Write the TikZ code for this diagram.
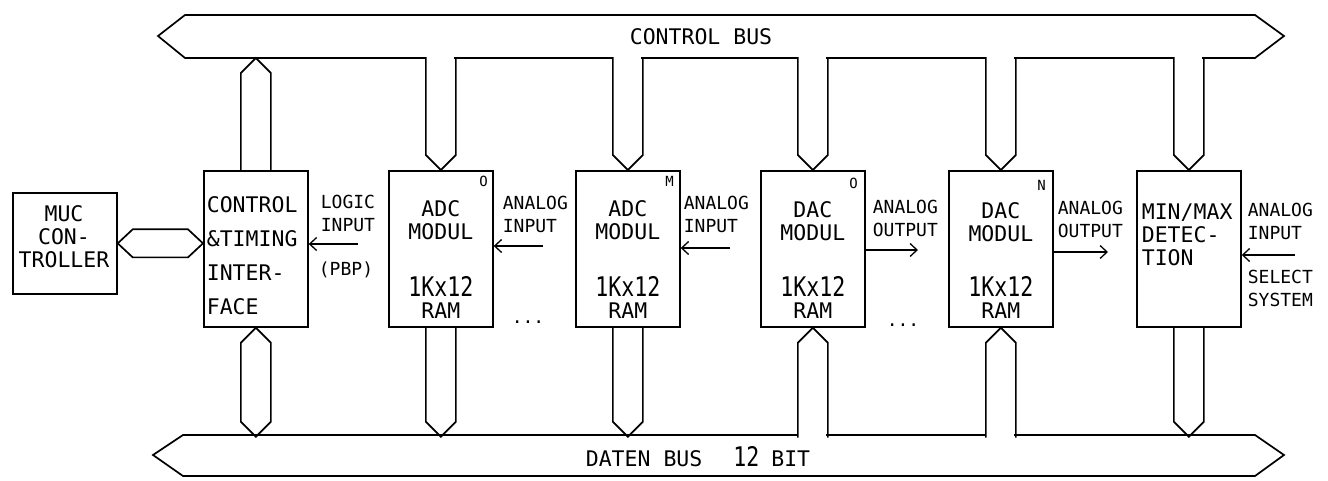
\documentclass[tikz,border=0pt]{standalone}
\usepackage{fontspec}
\usepackage{graphicx}
\newfontfamily\tw{DejaVu Sans Mono}
\usetikzlibrary{calc,arrows.meta}
\newcommand\bigf{\tw\fontsize{21.5}{23}\selectfont}
\newcommand\ramf{\tw\fontsize{27}{27}\selectfont}
\begin{document}
\begin{tikzpicture}[x=1pt,y=-1pt,
  line width=1.7pt, line join=miter, line cap=rect,
  box/.style={draw, rectangle, inner sep=0pt, anchor=north west},
  modbox/.style={box, minimum width=104pt, minimum height=156pt},
  bigtxt/.style={font=\bigf, align=center, inner sep=0pt},
  ramtxt/.style={font=\ramf, inner sep=0pt},
  smtxt/.style={font={\tw\fontsize{18}{23}\selectfont}, align=left, inner sep=0pt},
  idx/.style={font={\tw\fontsize{14}{14}\selectfont}, inner sep=0pt},
  arr/.style={-{Straight Barb[length=7pt,width=13pt]}, line width=1.3pt, line cap=butt}]
\fill[white] (0,0) rectangle (1328,481);
\useasboundingbox (0,0) rectangle (1328,481);

% boxes
\node[box, minimum width=104pt, minimum height=101pt] (muc) at (12,192) {};
\node[modbox] (cti)  at (203,170) {};
\node[modbox] (adc0) at (388,170) {};
\node[modbox] (adcm) at (575,170) {};
\node[modbox] (dac0) at (760,170) {};
\node[modbox] (dacn) at (948,170) {};
\node[modbox] (mm)   at (1136,170) {};

% control bus
\draw (1203,58) -- (1255,58) -- (1284,36) -- (1255,15) -- (185,15) -- (158,36) -- (185,58) -- (425,58);
\draw (455,58) -- (612,58);
\draw (642,58) -- (797,58);
\draw (827,58) -- (985,58);
\draw (1015,58) -- (1173,58);
\node[bigtxt] (cbl) at (701,37) {CONTROL BUS};

% daten bus
\draw (797,435) -- (183,435) -- (153,455) -- (183,476) -- (1255,476) -- (1284,455) -- (1255,435) -- (1015,435);
\draw (827,435) -- (985,435);
\node[bigtxt, anchor=base west] (dbl) at (585,466) {DATEN BUS\hspace{31pt}{\ramf\scalebox{0.8}[1]{12}}\hspace{12pt}BIT};

% stubs from control bus down into modules
\foreach \m in {adc0,adcm,dac0,dacn,mm}
  \draw ($(\m.north)+(-15,-112)$) -- ($(\m.north)+(-15,-15)$) -- (\m.north)
        -- ($(\m.north)+(15,-15)$) -- ($(\m.north)+(15,-112)$);
% stub from CTI up into control bus
\draw ($(cti.north)+(-15,0)$) -- ($(cti.north)+(-15,-97)$) -- ($(cti.north)+(0,-112)$)
      -- ($(cti.north)+(15,-97)$) -- ($(cti.north)+(15,0)$);
% stubs down into daten bus
\foreach \m in {adc0,adcm,mm}
  \draw ($(\m.south)+(-15,0)$) -- ($(\m.south)+(-15,94)$) -- ($(\m.south)+(0,109)$)
        -- ($(\m.south)+(15,94)$) -- ($(\m.south)+(15,0)$);
% stubs from daten bus up into DAC modules
\foreach \m in {dac0,dacn}
  \draw ($(\m.south)+(-15,109)$) -- ($(\m.south)+(-15,15)$) -- (\m.south)
        -- ($(\m.south)+(15,15)$) -- ($(\m.south)+(15,109)$);
% CTI <-> daten bus
\draw (cti.south) -- ($(cti.south)+(15,15)$) -- ($(cti.south)+(15,94)$) -- ($(cti.south)+(0,109)$)
      -- ($(cti.south)+(-15,94)$) -- ($(cti.south)+(-15,15)$) -- cycle;
% MUC <-> CTI
\coordinate (ml) at (muc.east);
\coordinate (mr) at (muc.east -| cti.west);
\draw (ml) -- ($(ml)+(15,-14)$) -- ($(mr)+(-15,-14)$) -- (mr) -- ($(mr)+(-15,14)$) -- ($(ml)+(15,14)$) -- cycle;

% box texts
\node[bigtxt] (muct) at (64,237) {MUC\\CON-\\TROLLER};
\node[bigtxt, align=left, anchor=west, font={\tw\fontsize{21.5}{34}\selectfont}] (ctit) at (206,256) {CONTROL\\\&TIMING\\INTER-\\FACE};
\node[bigtxt] (t1) at ($(adc0.north)+(0,50)$) {ADC\\MODUL};
\node[bigtxt] (t2) at ($(adcm.north)+(0,50)$) {ADC\\MODUL};
\node[bigtxt] (t3) at ($(dac0.north)+(0,51)$) {DAC\\MODUL};
\node[bigtxt] (t4) at ($(dacn.north)+(0,52)$) {DAC\\MODUL};
\foreach \m in {adc0,adcm,dac0,dacn} {
  \node[ramtxt] at ($(\m.north)+(0,116)$) {\scalebox{0.8}[1]{1Kx12}};
  \node[bigtxt] at ($(\m.north)+(0,141)$) {RAM};
}
\node[idx] (i1) at ($(adc0.north east)+(-10,11)$) {O};
\node[idx] (i2) at ($(adcm.north east)+(-11,11)$) {M};
\node[idx] (i3) at ($(dac0.north east)+(-12,13)$) {O};
\node[idx] (i4) at ($(dacn.north east)+(-12,15)$) {N};
\node[bigtxt, align=left, anchor=west] (mmt) at (1141,235) {MIN/MAX\\DETEC-\\TION};

% side labels
\node[smtxt, anchor=west] (lg) at (320,213) {LOGIC\\INPUT};
\node[smtxt] (pbp) at (346,270) {(PBP)};
\node[smtxt, anchor=west] (a1) at (502,214) {ANALOG\\INPUT};
\node[smtxt, anchor=west] (a2) at (683,214) {ANALOG\\INPUT};
\node[smtxt, anchor=west] (a3) at (872,218) {ANALOG\\OUTPUT};
\node[smtxt, anchor=west] (a4) at (1057,219) {ANALOG\\OUTPUT};
\node[smtxt, anchor=west] (a5) at (1247,221) {ANALOG\\INPUT};
\node[smtxt, anchor=west] (ss) at (1247,288) {SELECT\\SYSTEM};
\node[smtxt] (d1) at (528,322) {...};
\node[smtxt] (d2) at (903,325) {...};

% signal arrows
\coordinate (li) at (358,244);
\draw[arr] (li) -- (li -| cti.east);
\coordinate (ai1) at (543,246);
\draw[arr] (ai1) -- (ai1 -| adc0.east);
\coordinate (ai2) at (730,248);
\draw[arr] (ai2) -- (ai2 -| adcm.east);
\coordinate (ao1) at (918,250);
\draw[arr] (ao1 -| dac0.east) -- (ao1);
\coordinate (ao2) at (1108,252);
\draw[arr] (ao2 -| dacn.east) -- (ao2);
\coordinate (ai3) at (1295,255);
\draw[arr] (ai3) -- (ai3 -| mm.east);
\end{tikzpicture}
\end{document}
